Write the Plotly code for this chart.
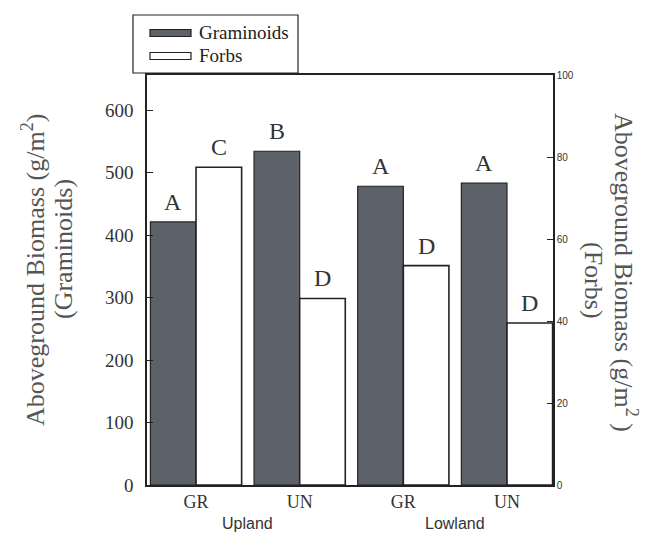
import plotly.graph_objects as go

# Sites and zones
sites = ["GR", "UN", "GR", "UN"]
zones = ["Upland", "Lowland"]
site_keys = ["Upland GR", "Upland UN", "Lowland GR", "Lowland UN"]

# Aboveground biomass (g/m2)
graminoids = [421, 534, 478, 483]
forbs = [77.5, 45.5, 53.5, 39.5]

# Significance letters
graminoid_letters = ["A", "B", "A", "A"]
forb_letters = ["C", "D", "D", "D"]

left_ticks = [0, 100, 200, 300, 400, 500, 600]
right_ticks = [0, 20, 40, 60, 80, 100]

GRAY = "#5d6169"
INK = "#222222"
SERIF = "Liberation Serif, Times New Roman, serif"
SANS = "Liberation Sans, Arial, sans-serif"
BW = 0.44  # bar width in category units

# Plot area in pixels
L, R, T, B = 147, 553, 75, 485
W, H = R - L, B - T


def px(xp, yp):
    """Pixel position -> paper coordinates."""
    return dict(x=(xp - L) / W, y=(B - yp) / H, xref="paper", yref="paper")


fig = go.Figure()

fig.add_trace(go.Bar(
    x=site_keys, y=graminoids, name="Graminoids",
    width=BW, offset=-BW,
    marker=dict(color=GRAY, line=dict(color=INK, width=1.2)),
    yaxis="y", showlegend=False,
))
fig.add_trace(go.Bar(
    x=site_keys, y=forbs, name="Forbs",
    width=BW, offset=0,
    marker=dict(color="white", line=dict(color=INK, width=1.6)),
    yaxis="y2", showlegend=False,
))

annotations = []
letter_font = dict(family=SERIF, size=24, color="#333")
for i, (g, f) in enumerate(zip(graminoids, forbs)):
    annotations.append(dict(x=i - BW / 2, y=g, xref="x", yref="y",
                            text=graminoid_letters[i], showarrow=False,
                            yanchor="bottom", yshift=5, font=letter_font))
    annotations.append(dict(x=i + BW / 2, y=f, xref="x", yref="y2",
                            text=forb_letters[i], showarrow=False,
                            yanchor="bottom", yshift=5, font=letter_font))

# Zone labels under the site labels
for j, z in enumerate(zones):
    annotations.append(dict(x=2 * j + 0.5, y=0, xref="x", yref="paper",
                            text=z, showarrow=False, yanchor="top", yshift=-28,
                            font=dict(family=SANS, size=16, color="#333")))

# Axis titles
title_font = dict(family=SERIF, size=26, color="#555")
annotations += [
    dict(**px(33, 270), text="Aboveground Biomass (g/m<sup>2</sup>)", textangle=-90,
         showarrow=False, xanchor="center", yanchor="middle", font=title_font),
    dict(**px(63, 249), text="(Graminoids)", textangle=-90,
         showarrow=False, xanchor="center", yanchor="middle", font=title_font),
    dict(**px(626, 272), text="Aboveground Biomass (g/m<sup>2</sup> )", textangle=90,
         showarrow=False, xanchor="center", yanchor="middle", font=title_font),
    dict(**px(594, 280), text="(Forbs)", textangle=90,
         showarrow=False, xanchor="center", yanchor="middle", font=title_font),
]

# Legend box
legend_items = [("Graminoids", GRAY, 33), ("Forbs", "white", 56)]
shapes = [dict(type="rect", xref="paper", yref="paper",
               x0=(133 - L) / W, x1=(298 - L) / W,
               y0=(B - 73) / H, y1=(B - 15) / H,
               line=dict(color=INK, width=1.2), fillcolor="white")]
for label, col, yc in legend_items:
    shapes.append(dict(type="rect", xref="paper", yref="paper",
                       x0=(150 - L) / W, x1=(191 - L) / W,
                       y0=(B - yc - 3.5) / H, y1=(B - yc + 3.5) / H,
                       line=dict(color=INK, width=1.2), fillcolor=col))
    annotations.append(dict(**px(197, yc), text=label, showarrow=False,
                            xanchor="left", yanchor="middle",
                            font=dict(family=SERIF, size=19, color="#222")))

fig.update_layout(
    width=650, height=533,
    margin=dict(l=L, r=650 - R, t=T, b=533 - B),
    paper_bgcolor="white", plot_bgcolor="white",
    bargap=0.12,
    xaxis=dict(
        type="category", range=[-0.473, 3.444],
        tickvals=site_keys, ticktext=sites,
        showline=True, linecolor=INK, linewidth=1.5, mirror=True,
        ticks="", showgrid=False, zeroline=False,
        tickfont=dict(family=SERIF, size=18, color="#333"),
    ),
    yaxis=dict(
        range=[0, 656], tickvals=left_ticks,
        showline=True, linecolor=INK, linewidth=1.5,
        ticks="inside", ticklen=6, tickcolor=INK, tickwidth=1.2,
        showgrid=False, zeroline=False,
        tickfont=dict(family=SERIF, size=19, color="#333"),
        ticklabelstandoff=8,
    ),
    yaxis2=dict(
        overlaying="y", side="right",
        range=[0, 100], tickvals=right_ticks,
        showline=True, linecolor=INK, linewidth=1.5,
        ticks="inside", ticklen=6, tickcolor=INK, tickwidth=1.2,
        showgrid=False, zeroline=False,
        tickfont=dict(family=SANS, size=10, color="#333"),
    ),
    showlegend=False,
    annotations=annotations,
    shapes=shapes,
)

fig.write_html("out.html")
